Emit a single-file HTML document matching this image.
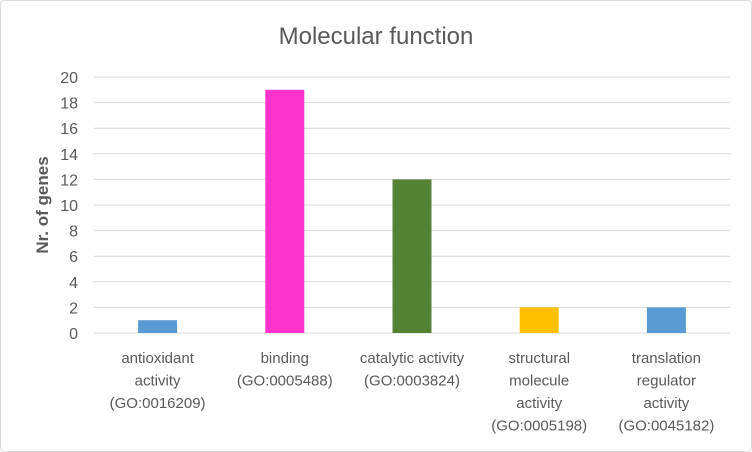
<!DOCTYPE html>
<html><head><meta charset="utf-8"><style>
body{margin:0;background:#fff;}
svg{display:block;font-family:"Liberation Sans",Calibri,sans-serif;}
</style></head><body>
<svg id="chart" width="752" height="452" viewBox="0 0 752 452">
<rect x="0.5" y="0.5" width="751" height="451" rx="4" fill="#fff" stroke="#d9d9d9"/>
<text x="376" y="44" text-anchor="middle" font-size="24" fill="#595959">Molecular function</text>
<text transform="translate(48,205) rotate(-90)" text-anchor="middle" font-size="17" font-weight="bold" fill="#595959">Nr. of genes</text>
<g id="grid"></g><g id="bars"></g><g id="labels"></g>
</svg>
<script>
const categories = [
  ["antioxidant","activity","(GO:0016209)"],
  ["binding","(GO:0005488)"],
  ["catalytic activity","(GO:0003824)"],
  ["structural","molecule","activity","(GO:0005198)"],
  ["translation","regulator","activity","(GO:0045182)"]
];
const values = [1, 19, 12, 2, 2];
const colors = ["#5B9BD5","#FF33CC","#548235","#FFC000","#5B9BD5"];
const yTicks = [0,2,4,6,8,10,12,14,16,18,20];

const NS="http://www.w3.org/2000/svg";
const plotL=94,plotR=730,plotT=77,plotB=333,yMax=20;
const yS=v=>plotB-(v/yMax)*(plotB-plotT);
const bw=(plotR-plotL)/categories.length;
const xS=i=>plotL+bw*(i+0.5);
function mk(t,a,p){const e=document.createElementNS(NS,t);for(const k in a)e.setAttribute(k,a[k]);p.appendChild(e);return e;}
const grid=document.getElementById('grid'),bars=document.getElementById('bars'),labels=document.getElementById('labels');
yTicks.forEach(v=>{
  const l=mk('line',{x1:plotL,x2:plotR,y1:yS(v),y2:yS(v),stroke:"#d9d9d9","stroke-width":1},grid);
  
  
  const t=mk('text',{x:78,y:yS(v)+6,"text-anchor":"end","font-size":16,fill:"#595959"},grid);
  t.textContent=v;
  
  
});
values.forEach((v,i)=>{
  const r=mk('rect',{x:xS(i)-19.5,y:yS(v),width:39,height:plotB-yS(v),fill:colors[i]},bars);
  
  
});
categories.forEach((lines,i)=>{
  const t=mk('text',{"text-anchor":"middle","font-size":15,fill:"#595959"},labels);
  
  
  lines.forEach((s,j)=>{const ts=mk('tspan',{x:xS(i),y:363+j*22.5},t);ts.textContent=s;});
});
</script>
</body></html>
